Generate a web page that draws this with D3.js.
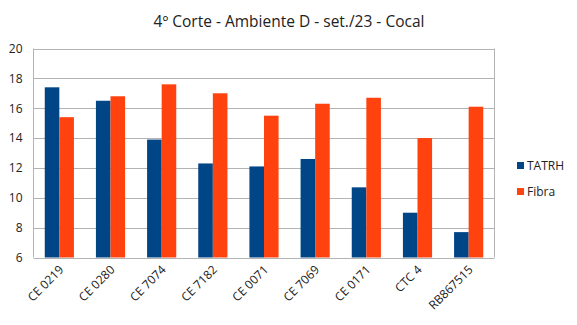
<!DOCTYPE html>
<html><head><meta charset="utf-8">
<script src="https://cdn.jsdelivr.net/npm/d3@7"></script>
<style>body{margin:0;background:#fff}svg{display:block}</style>
</head><body>
<svg id="c" width="577" height="325"></svg>
<script>
const categories = ["CE 0219","CE 0280","CE 7074","CE 7182","CE 0071","CE 7069","CE 0171","CTC 4","RB867515"];
const tatrh = [17.4,16.5,13.9,12.3,12.1,12.6,10.7,9.0,7.7];
const fibra = [15.4,16.8,17.6,17.0,15.5,16.3,16.7,14.0,16.1];
const seriesNames = ["TATRH","Fibra"];
const colors = ["#004586","#ff420e"];
const yTicks = [6,8,10,12,14,16,18,20];
const title = "4º Corte - Ambiente D - set./23 - Cocal";

const svg = d3.select("#c");
const font = "'Open Sans', 'Liberation Sans', sans-serif";
const L = 33.5, R = 494.5, T = 48.5, B = 257.5;

const x = d3.scaleBand().domain(categories).range([L, R]).paddingInner(0.43).paddingOuter(0.22);
const xs = d3.scaleBand().domain(seriesNames).range([0, x.bandwidth()]);
const y = d3.scaleLinear().domain([6, 20]).range([B, T]);

svg.append("text").attr("x", 289).attr("y", 27).attr("text-anchor", "middle")
  .attr("font-family", font).attr("font-size", 15.5).attr("fill", "#222").text(title);

// gridlines
svg.append("g").selectAll("line").data(yTicks).join("line")
  .attr("x1", L).attr("x2", R).attr("y1", d => Math.round(y(d)) + 0.5).attr("y2", d => Math.round(y(d)) + 0.5)
  .attr("stroke", "#b3b3b3").attr("stroke-width", 1);
svg.append("line").attr("x1", L).attr("x2", L).attr("y1", T).attr("y2", B).attr("stroke", "#b3b3b3");
svg.append("line").attr("x1", R).attr("x2", R).attr("y1", T).attr("y2", B).attr("stroke", "#b3b3b3");

// y axis labels
const yAxis = d3.axisLeft(y).tickValues(yTicks).tickSize(0).tickPadding(11);
const gy = svg.append("g").attr("transform", `translate(${L},0)`).call(yAxis);
gy.select(".domain").remove();
gy.selectAll("text").attr("font-family", font).attr("font-size", 12).attr("fill", "#222");

// bars
const data = categories.map((c, i) => ({c, vals: [tatrh[i], fibra[i]]}));
const g = svg.append("g");
data.forEach(d => {
  d.vals.forEach((v, j) => {
    g.append("rect")
      .attr("x", x(d.c) + xs(seriesNames[j]))
      .attr("width", xs.bandwidth())
      .attr("y", y(v)).attr("height", y(6) - y(v))
      .attr("fill", colors[j]);
  });
});

// x axis labels
const xAxis = d3.axisBottom(x).tickSize(0).tickPadding(0);
const gx = svg.append("g").attr("transform", `translate(0,${B})`).call(xAxis);
gx.select(".domain").remove();
gx.selectAll("text").attr("font-family", font).attr("font-size", 12).attr("fill", "#222")
  .attr("text-anchor", "end").attr("dy", 0).attr("dx", 0)
  .attr("transform", "translate(5,13) rotate(-45)");

// legend
const lg = svg.append("g");
seriesNames.forEach((s, i) => {
  const yy = 166 + i * 26;
  lg.append("rect").attr("x", 517).attr("y", yy - 4).attr("width", 7).attr("height", 7).attr("fill", colors[i]);
  lg.append("text").attr("x", 527).attr("y", yy + 4).attr("font-family", font).attr("font-size", 12)
    .attr("fill", "#222").text(s);
});
</script>
</body></html>
